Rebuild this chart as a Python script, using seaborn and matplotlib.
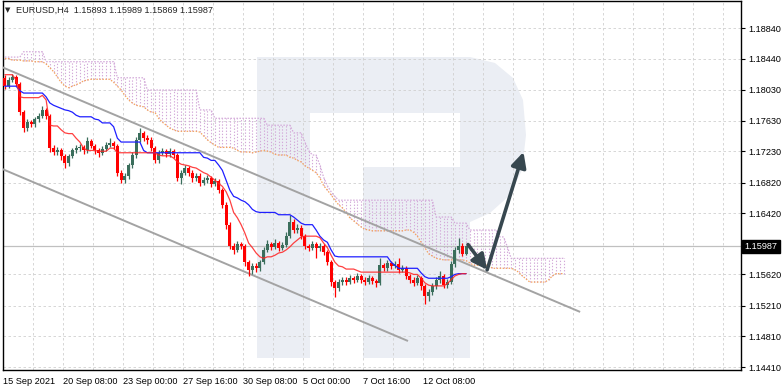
import matplotlib
matplotlib.use("Agg")
import matplotlib.pyplot as plt
import seaborn as sns
import pandas as pd
from matplotlib.patches import Polygon

sns.set_style("white")
plt.rcParams['font.family'] = ['Liberation Sans', 'DejaVu Sans']

# EURUSD H4 candles (open of bar 0, then closes / highs / lows)
first_open = 1.1819
closes = [1.1808, 1.1816, 1.1820, 1.1811, 1.1774, 1.1753, 1.1761, 1.1758, 1.1765, 1.1769,
          1.1777, 1.1769, 1.1727, 1.1722, 1.1724, 1.1717, 1.1708, 1.1717, 1.1724, 1.1727,
          1.1728, 1.1724, 1.1736, 1.1730, 1.1724, 1.1721, 1.1726, 1.1731, 1.1734, 1.1730,
          1.1695, 1.1685, 1.1690, 1.1705, 1.1718, 1.1738, 1.1747, 1.1740, 1.1738, 1.1727,
          1.1711, 1.1721, 1.1723, 1.1719, 1.1723, 1.1718, 1.1688, 1.1695, 1.1701, 1.1695,
          1.1688, 1.1691, 1.1682, 1.1685, 1.1688, 1.1680, 1.1684, 1.1672, 1.1653, 1.1627,
          1.1599, 1.1594, 1.1602, 1.1599, 1.1578, 1.1568, 1.1573, 1.1570, 1.1578, 1.1594,
          1.1602, 1.1598, 1.1603, 1.1597, 1.1601, 1.1612, 1.1631, 1.1620, 1.1623, 1.1612,
          1.1599, 1.1597, 1.1602, 1.1597, 1.1599, 1.1591, 1.1578, 1.1552, 1.1544, 1.1552,
          1.1555, 1.1552, 1.1557, 1.1555, 1.1560, 1.1555, 1.1552, 1.1557, 1.1553, 1.1551,
          1.1574, 1.1570, 1.1577, 1.1573, 1.1576, 1.1568, 1.1570, 1.1560, 1.1555, 1.1551,
          1.1557, 1.1547, 1.1534, 1.1539, 1.1547, 1.1555, 1.1560, 1.1548, 1.1552, 1.1576,
          1.1594, 1.1599, 1.15893, 1.15987]
highs = [1.1823, 1.1820, 1.1824, 1.1822, 1.1814, 1.1777, 1.1765, 1.1764, 1.1768, 1.1773,
         1.1782, 1.1780, 1.1771, 1.1731, 1.1728, 1.1727, 1.1720, 1.1720, 1.1727, 1.1731,
         1.1732, 1.1731, 1.1742, 1.1739, 1.1733, 1.1727, 1.1730, 1.1735, 1.1740, 1.1737,
         1.1733, 1.1698, 1.1694, 1.1708, 1.1722, 1.1742, 1.1753, 1.1750, 1.1744, 1.1741,
         1.1730, 1.1724, 1.1727, 1.1726, 1.1727, 1.1726, 1.1721, 1.1699, 1.1705, 1.1704,
         1.1698, 1.1695, 1.1694, 1.1689, 1.1692, 1.1691, 1.1688, 1.1687, 1.1675, 1.1656,
         1.1630, 1.1603, 1.1606, 1.1605, 1.1602, 1.1581, 1.1577, 1.1577, 1.1581, 1.1598,
         1.1607, 1.1605, 1.1608, 1.1606, 1.1605, 1.1617, 1.1640, 1.1634, 1.1628, 1.1626,
         1.1615, 1.1602, 1.1606, 1.1605, 1.1603, 1.1602, 1.1594, 1.1581, 1.1555, 1.1556,
         1.1559, 1.1558, 1.1561, 1.1560, 1.1564, 1.1563, 1.1558, 1.1561, 1.1560, 1.1556,
         1.1583, 1.1577, 1.1581, 1.1580, 1.1580, 1.1584, 1.1574, 1.1573, 1.1563, 1.1558,
         1.1561, 1.1560, 1.1550, 1.1543, 1.1551, 1.1559, 1.1566, 1.1563, 1.1556, 1.1580,
         1.1598, 1.1609, 1.1603, 1.15989]
lows = [1.1804, 1.1805, 1.1813, 1.1808, 1.1770, 1.1748, 1.1750, 1.1754, 1.1755, 1.1761,
        1.1766, 1.1765, 1.1722, 1.1718, 1.1718, 1.1712, 1.1701, 1.1704, 1.1714, 1.1721,
        1.1723, 1.1720, 1.1721, 1.1727, 1.1720, 1.1716, 1.1718, 1.1723, 1.1728, 1.1726,
        1.1690, 1.1681, 1.1682, 1.1687, 1.1701, 1.1714, 1.1735, 1.1736, 1.1733, 1.1723,
        1.1707, 1.1708, 1.1718, 1.1715, 1.1716, 1.1714, 1.1684, 1.1680, 1.1692, 1.1691,
        1.1683, 1.1684, 1.1678, 1.1679, 1.1681, 1.1676, 1.1677, 1.1668, 1.1649, 1.1622,
        1.1595, 1.1589, 1.1591, 1.1595, 1.1573, 1.1560, 1.1563, 1.1565, 1.1566, 1.1575,
        1.1591, 1.1594, 1.1595, 1.1593, 1.1594, 1.1598, 1.1609, 1.1616, 1.1616, 1.1608,
        1.1595, 1.1592, 1.1594, 1.1583, 1.1592, 1.1587, 1.1574, 1.1547, 1.1532, 1.1540,
        1.1548, 1.1548, 1.1549, 1.1551, 1.1552, 1.1551, 1.1548, 1.1549, 1.1549, 1.1546,
        1.1548, 1.1566, 1.1567, 1.1569, 1.1570, 1.1564, 1.1565, 1.1556, 1.1551, 1.1547,
        1.1548, 1.1542, 1.1524, 1.1527, 1.1535, 1.1543, 1.1551, 1.1544, 1.1544, 1.1549,
        1.1572, 1.1590, 1.1586, 1.15869]

# Ichimoku lines
tenkan = [1.1823, 1.1823, 1.1823, 1.1816, 1.1794, 1.1793, 1.1793, 1.1793, 1.1793, 1.1793,
          1.1796, 1.1790, 1.1757, 1.1756, 1.1756, 1.1751, 1.1747, 1.1746, 1.1746, 1.1740,
          1.1735, 1.1727, 1.1724, 1.1724, 1.1724, 1.1723, 1.1723, 1.1723, 1.1727, 1.1727,
          1.1721, 1.1721, 1.1721, 1.1721, 1.1721, 1.1721, 1.1721, 1.1721, 1.1721, 1.1721,
          1.1721, 1.1718, 1.1717, 1.1717, 1.1717, 1.1714, 1.1709, 1.1706, 1.1705, 1.1704,
          1.1702, 1.1701, 1.1698, 1.1695, 1.1693, 1.1689, 1.1685, 1.1681, 1.1677, 1.1670,
          1.1659, 1.1643, 1.1636, 1.1627, 1.1616, 1.1603, 1.1597, 1.1590, 1.1585, 1.1583,
          1.1585, 1.1585, 1.1587, 1.1590, 1.1591, 1.1594, 1.1598, 1.1603, 1.1607, 1.1611,
          1.1612, 1.1612, 1.1612, 1.1612, 1.1610, 1.1603, 1.1597, 1.1587, 1.1578, 1.1573,
          1.1572, 1.1569, 1.1569, 1.1569, 1.1567, 1.1565, 1.1565, 1.1565, 1.1565, 1.1565,
          1.1565, 1.1565, 1.1565, 1.1565, 1.1565, 1.1565, 1.1565, 1.1565, 1.1564, 1.1562,
          1.1562, 1.1557, 1.1551, 1.1548, 1.1547, 1.1547, 1.1547, 1.1547, 1.1550, 1.1555,
          1.1560, 1.1562, 1.1563, 1.1563]
kijun = [1.1808, 1.1808, 1.1808, 1.1808, 1.1802, 1.1799, 1.1799, 1.1799, 1.1799, 1.1799,
         1.1799, 1.1794, 1.1786, 1.1783, 1.1781, 1.1779, 1.1777, 1.1776, 1.1774, 1.1770,
         1.1768, 1.1768, 1.1768, 1.1768, 1.1765, 1.1764, 1.1760, 1.1760, 1.1760, 1.1755,
         1.1740, 1.1735, 1.1735, 1.1735, 1.1735, 1.1735, 1.1735, 1.1724, 1.1721, 1.1721,
         1.1721, 1.1721, 1.1721, 1.1721, 1.1721, 1.1721, 1.1721, 1.1721, 1.1721, 1.1721,
         1.1721, 1.1721, 1.1721, 1.1715, 1.1714, 1.1711, 1.1711, 1.1705, 1.1698, 1.1685,
         1.1672, 1.1664, 1.1662, 1.1659, 1.1657, 1.1653, 1.1647, 1.1644, 1.1643, 1.1643,
         1.1643, 1.1643, 1.1643, 1.1640, 1.1640, 1.1640, 1.1640, 1.1637, 1.1633, 1.1629,
         1.1627, 1.1627, 1.1627, 1.1620, 1.1612, 1.1607, 1.1604, 1.1594, 1.1586, 1.1585,
         1.1585, 1.1585, 1.1585, 1.1585, 1.1585, 1.1585, 1.1585, 1.1585, 1.1585, 1.1585,
         1.1585, 1.1585, 1.1585, 1.1578, 1.1574, 1.1570, 1.1570, 1.1570, 1.1570, 1.1570,
         1.1570, 1.1564, 1.1559, 1.1557, 1.1557, 1.1557, 1.1557, 1.1557, 1.1557, 1.1559,
         1.1562, 1.1563, 1.1563, 1.1563]
span_a = [1.1844, 1.1844, 1.1842, 1.1842, 1.1842, 1.1841, 1.1841, 1.1841, 1.1840, 1.1840,
          1.1840, 1.1837, 1.1832, 1.1827, 1.1820, 1.1813, 1.1808, 1.1806, 1.1808, 1.1810,
          1.1812, 1.1815, 1.1816, 1.1817, 1.1817, 1.1817, 1.1817, 1.1817, 1.1817, 1.1813,
          1.1808, 1.1803, 1.1796, 1.1790, 1.1786, 1.1783, 1.1782, 1.1781, 1.1777, 1.1774,
          1.1774, 1.1766, 1.1761, 1.1757, 1.1753, 1.1751, 1.1749, 1.1749, 1.1749, 1.1749,
          1.1749, 1.1749, 1.1748, 1.1743, 1.1738, 1.1734, 1.1731, 1.1728, 1.1728, 1.1728,
          1.1728, 1.1727, 1.1724, 1.1722, 1.1722, 1.1722, 1.1721, 1.1722, 1.1723, 1.1724,
          1.1723, 1.1722, 1.1719, 1.1718, 1.1718, 1.1718, 1.1715, 1.1714, 1.1711, 1.1709,
          1.1704, 1.1701, 1.1698, 1.1695, 1.1688, 1.1678, 1.1672, 1.1666, 1.1659, 1.1653,
          1.1649, 1.1643, 1.1636, 1.1632, 1.1628, 1.1624, 1.1621, 1.1620, 1.1619, 1.1619,
          1.1619, 1.1619, 1.1619, 1.1619, 1.1619, 1.1619, 1.1619, 1.1620, 1.1620, 1.1617,
          1.1612, 1.1604, 1.1597, 1.1589, 1.1586, 1.1583, 1.1582, 1.1581, 1.1581, 1.1581,
          1.1581, 1.1581, 1.1581, 1.1580, 1.1577, 1.1574, 1.1574, 1.1574, 1.1574, 1.1574,
          1.1570, 1.1570, 1.1570, 1.1570, 1.1570, 1.1570, 1.1568, 1.1565, 1.1560, 1.1556,
          1.1552, 1.1552, 1.1552, 1.1552, 1.1552, 1.1555, 1.1560, 1.1563, 1.1563, 1.1563]
span_b = [1.1846, 1.1846, 1.1846, 1.1846, 1.1846, 1.1853, 1.1853, 1.1853, 1.1853, 1.1853,
          1.1853, 1.1840, 1.1840, 1.1840, 1.1840, 1.1840, 1.1840, 1.1840, 1.1840, 1.1840,
          1.1840, 1.1840, 1.1840, 1.1840, 1.1840, 1.1840, 1.1840, 1.1840, 1.1840, 1.1840,
          1.1819, 1.1819, 1.1819, 1.1819, 1.1819, 1.1819, 1.1819, 1.1819, 1.1803, 1.1803,
          1.1803, 1.1803, 1.1803, 1.1803, 1.1803, 1.1803, 1.1803, 1.1803, 1.1803, 1.1803,
          1.1803, 1.1803, 1.1777, 1.1777, 1.1777, 1.1777, 1.1766, 1.1766, 1.1766, 1.1766,
          1.1766, 1.1766, 1.1766, 1.1766, 1.1766, 1.1766, 1.1766, 1.1766, 1.1766, 1.1766,
          1.1757, 1.1757, 1.1757, 1.1757, 1.1757, 1.1757, 1.1757, 1.1747, 1.1747, 1.1747,
          1.1735, 1.1724, 1.1718, 1.1718, 1.1705, 1.1689, 1.1678, 1.1670, 1.1664, 1.1659,
          1.1659, 1.1659, 1.1659, 1.1659, 1.1659, 1.1659, 1.1659, 1.1659, 1.1659, 1.1659,
          1.1659, 1.1659, 1.1659, 1.1659, 1.1659, 1.1659, 1.1659, 1.1659, 1.1659, 1.1659,
          1.1659, 1.1659, 1.1659, 1.1659, 1.1659, 1.1637, 1.1637, 1.1637, 1.1637, 1.1637,
          1.1629, 1.1629, 1.1629, 1.1629, 1.1620, 1.1620, 1.1620, 1.1620, 1.1620, 1.1620,
          1.1620, 1.1620, 1.1611, 1.1611, 1.1598, 1.1583, 1.1583, 1.1583, 1.1583, 1.1583,
          1.1583, 1.1583, 1.1583, 1.1583, 1.1583, 1.1583, 1.1583, 1.1583, 1.1583, 1.1583]

# channel lines and forecast arrows: (bar, price) end points
upper_channel = [(-1.3, 1.1834), (153.4, 1.1513)]
lower_channel = [(-1.3, 1.1701), (107.5, 1.1475)]
arrow_down = [(123.5, 1.1601), (128.6, 1.1568)]
arrow_up = [(128.6, 1.1568), (138.3, 1.1722)]

price_ticks = [1.18840, 1.18440, 1.18030, 1.17630, 1.17230, 1.16820,
               1.16420, 1.15620, 1.15210, 1.14810, 1.14410]
date_labels = ["15 Sep 2021", "20 Sep 08:00", "23 Sep 00:00", "27 Sep 16:00",
               "30 Sep 08:00", "5 Oct 00:00", "7 Oct 16:00", "12 Oct 08:00"]
last_price = 1.15987
header = "EURUSD,H4  1.15893 1.15989 1.15869 1.15987"

W, H = 782, 389
TOP, BOT, LEFT, RIGHT = 1, 370, 3, 741
fig = plt.figure(figsize=(W / 100, H / 100), dpi=100)
ax = fig.add_axes([LEFT / W, 1 - BOT / H, (RIGHT - LEFT) / W, (BOT - TOP) / H])
ax.set_facecolor("white")


# watermark "R" (pixel positions -> axes fraction)
def axp(x, y):
    return ((x - LEFT) / (RIGHT - LEFT), 1 - (y - TOP) / (BOT - TOP))


wm = "#ebeef4"
shape = [(257, 57), (470, 57), (495, 63), (513, 78), (523, 100), (526, 135), (522, 170),
         (510, 195), (490, 213), (470, 222), (470, 358), (363, 358), (363, 167),
         (310, 167), (310, 358), (257, 358)]
ax.add_patch(Polygon([axp(*p) for p in shape], closed=True, transform=ax.transAxes,
                     facecolor=wm, edgecolor="none", zorder=0))
ax.add_patch(Polygon([axp(*p) for p in [(310, 113), (460, 113), (460, 167), (310, 167)]],
                     closed=True, transform=ax.transAxes, facecolor="white",
                     edgecolor="none", zorder=0))

n = len(closes)
bars = list(range(n))
cloud_bars = list(range(len(span_a)))
opens = [first_open] + closes[:-1]

# cloud hatch + span lines
ax.vlines(cloud_bars, span_a, span_b, colors="#d3a9d9", linestyles=(0, (1.2, 1.6)),
          linewidth=0.8, zorder=1)
cloud = pd.DataFrame({"bar": cloud_bars, "a": span_a, "b": span_b})
sns.lineplot(data=cloud, x="bar", y="a", ax=ax, color="#f4a460", linewidth=0.9,
             linestyle=(0, (1.2, 1.2)), zorder=2)
sns.lineplot(data=cloud, x="bar", y="b", ax=ax, color="#d3a9d9", linewidth=0.9,
             linestyle=(0, (1.2, 1.2)), zorder=2)

# grid
for p in price_ticks:
    ax.axhline(p, color="#d0d0d0", lw=0.6, ls=(0, (3, 3)), zorder=0.5)
for k in range(0, 200, 8):
    ax.axvline(k - 0.5, color="#d0d0d0", lw=0.6, ls=(0, (3, 3)), zorder=0.5)

# last price line
ax.axhline(last_price, color="#c0c0c0", lw=0.9, zorder=1)

# channel lines
for line in (upper_channel, lower_channel):
    ax.plot([line[0][0], line[1][0]], [line[0][1], line[1][1]], color="#a3a3a3",
            lw=1.4, zorder=3, solid_capstyle="butt")

# candles
up_col, dn_col = "#3b6e5c", "#ff0000"
cols = [up_col if c >= o else dn_col for o, c in zip(opens, closes)]
ax.vlines(bars, lows, highs, colors=cols, linewidth=0.9, zorder=4)
body_h = [max(abs(c - o), 0.00008) for o, c in zip(opens, closes)]
body_b = [min(o, c) for o, c in zip(opens, closes)]
ax.bar(bars, body_h, bottom=body_b, width=0.78, color=cols, linewidth=0, zorder=5)

# tenkan / kijun
lines = pd.DataFrame({"bar": bars, "tenkan": tenkan, "kijun": kijun})
sns.lineplot(data=lines, x="bar", y="kijun", ax=ax, color="#1f1fff", linewidth=0.9, zorder=6)
sns.lineplot(data=lines, x="bar", y="tenkan", ax=ax, color="#ff2020", linewidth=0.9,
             alpha=0.85, zorder=6)

# arrows
for a in (arrow_down, arrow_up):
    ax.annotate("", xy=a[1], xytext=a[0], zorder=8,
                arrowprops=dict(arrowstyle="-|>,head_length=0.9,head_width=0.45",
                                color="#37474f", lw=2.6, shrinkA=0, shrinkB=0))

ax.set_xlim(-0.5, 196.3)
ax.set_ylim(1.14371, 1.19193)

# axes cosmetics
for s in ax.spines.values():
    s.set_color("black")
    s.set_linewidth(1.0)
ax.yaxis.tick_right()
ax.set_yticks(price_ticks)
ax.set_yticklabels([f"{p:.5f}" for p in price_ticks])
ax.set_xticks([16 * k - 0.45 for k in range(len(date_labels))])
ax.set_xticklabels(date_labels, ha="left")
ax.tick_params(axis="both", labelsize=6.6, length=3, width=0.8, colors="black")
ax.tick_params(axis="x", pad=2)
ax.tick_params(axis="y", pad=2)
ax.set_xlabel("")
ax.set_ylabel("")

# last price tag
ax.text(1.0045, last_price, f"{last_price:.5f}", transform=ax.get_yaxis_transform(),
        fontsize=6.6, color="white", va="center", ha="left",
        bbox=dict(boxstyle="square,pad=0.25", facecolor="black", edgecolor="black"))

fig.text(5 / W, 1 - 10 / H, "\u25bc", fontsize=5, va="center", ha="left",
         family="DejaVu Sans")
fig.text(16 / W, 1 - 10 / H, header, fontsize=6.6, va="center", ha="left")

fig.savefig("out.png", dpi=100, facecolor="white")
